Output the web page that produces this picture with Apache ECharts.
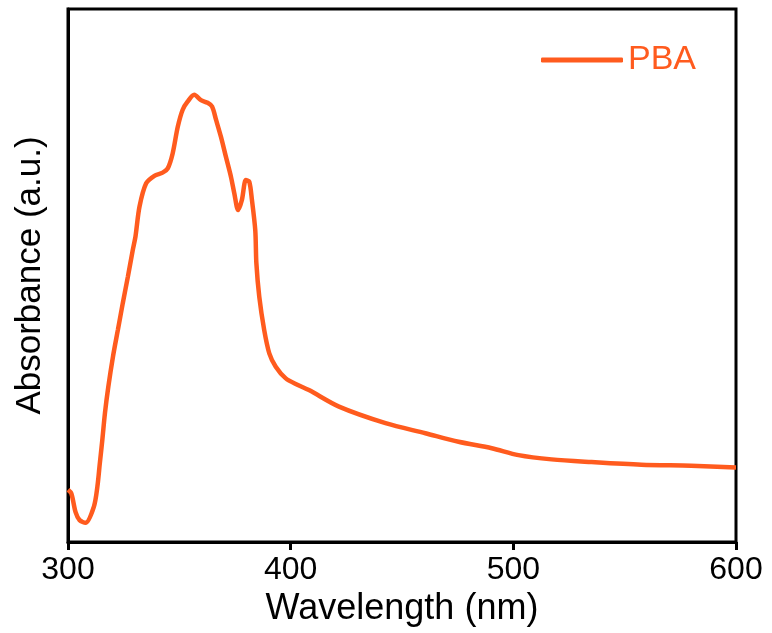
<!DOCTYPE html>
<html>
<head>
<meta charset="utf-8">
<script src="https://cdn.jsdelivr.net/npm/echarts@6/dist/echarts.min.js"></script>
<style>
  html, body { margin: 0; padding: 0; background: #fff; }
  #chart { width: 772px; height: 633px; }
</style>
</head>
<body>
<div id="chart"></div>
<script>
// (arbitrary absorbance units, 0..1 of plot height)
const wavelength = [300, 301.5, 303.4, 305.2, 307.9, 311.6, 313.2, 314.3, 315.4, 316.6, 318.1, 320.2, 322.4, 324.6, 326.9, 329.1, 330.3, 332.1, 335.1, 338.8, 342.5, 344.8, 347.0, 349.3, 351.5, 353.7, 356.7, 359.7, 362.7, 364.7, 366.5, 368.7, 370.9, 373.2, 374.7, 376.4, 378.1, 379.9, 381.4, 382.6, 384.1, 384.6, 385.9, 388.1, 390.4, 393.3, 397.8, 403.0, 408.2, 421.7, 442.6, 460.5, 475.4, 490.3, 502.3, 517.2, 535.1, 557.5, 579.9, 600];
const absorbance = [0.098, 0.091, 0.056, 0.041, 0.036, 0.066, 0.104, 0.148, 0.191, 0.242, 0.291, 0.348, 0.398, 0.448, 0.498, 0.548, 0.573, 0.629, 0.673, 0.687, 0.693, 0.701, 0.729, 0.779, 0.811, 0.826, 0.839, 0.829, 0.824, 0.817, 0.792, 0.760, 0.723, 0.685, 0.654, 0.623, 0.642, 0.679, 0.676, 0.642, 0.585, 0.523, 0.460, 0.398, 0.354, 0.329, 0.307, 0.295, 0.285, 0.254, 0.223, 0.204, 0.188, 0.176, 0.163, 0.155, 0.150, 0.145, 0.143, 0.140];
const xTicks = [300, 400, 500, 600];

const orange = '#ff5b1e';
const font = 'Liberation Sans, Arial, sans-serif';

const chart = echarts.init(document.getElementById('chart'));
chart.setOption({
  animation: false,
  grid: {
    left: 68, right: 36, top: 9, bottom: 91,
    show: true, borderColor: '#000', borderWidth: 3
  },
  legend: {
    data: ['PBA'],
    left: 536, top: 38,
    icon: 'roundRect',
    itemWidth: 82, itemHeight: 5, itemGap: 10,
    textStyle: { color: orange, fontSize: 34, fontFamily: font }
  },
  xAxis: {
    type: 'value',
    min: 300, max: 600, interval: 100,
    name: 'Wavelength (nm)',
    nameLocation: 'middle', nameGap: 48,
    nameTextStyle: { color: '#000', fontSize: 36, fontFamily: font },
    axisLine: { lineStyle: { color: '#000', width: 3 } },
    axisTick: { inside: false, length: 8, lineStyle: { color: '#000', width: 3 } },
    axisLabel: {
      color: '#000', fontSize: 32, fontFamily: font, margin: 12,
      formatter: v => xTicks.includes(v) ? String(v) : ''
    },
    splitLine: { show: false }
  },
  yAxis: {
    type: 'value',
    min: 0, max: 1,
    name: 'Absorbance (a.u.)',
    nameLocation: 'middle', nameGap: 20,
    nameTextStyle: { color: '#000', fontSize: 35, fontFamily: font },
    axisLine: { lineStyle: { color: '#000', width: 3 } },
    axisTick: { show: false },
    axisLabel: { show: false },
    splitLine: { show: false }
  },
  series: [{
    name: 'PBA',
    type: 'line',
    data: wavelength.map((w, i) => [w, absorbance[i]]),
    showSymbol: false,
    smooth: 0.3,
    lineStyle: { color: orange, width: 4.5 },
    itemStyle: { color: orange }
  }]
});
</script>
</body>
</html>
